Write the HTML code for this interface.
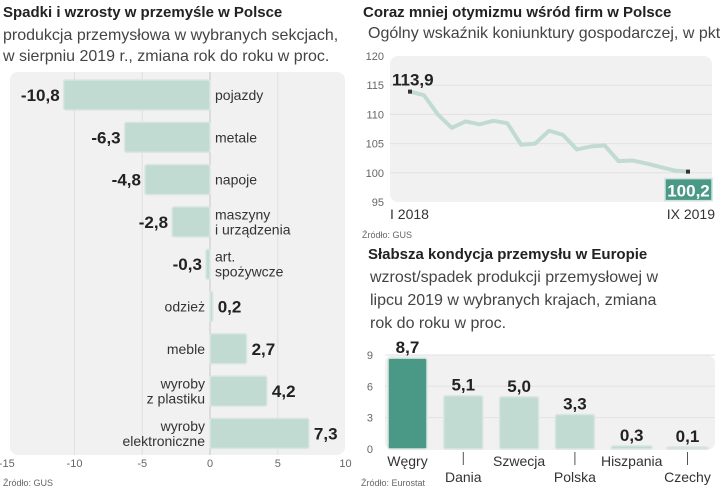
<!DOCTYPE html>
<html><head><meta charset="utf-8"><style>
body{margin:0;background:#fff;}
svg text{font-family:"Liberation Sans Narrow","Liberation Sans",sans-serif;}
.t{font-weight:bold;font-size:15px;fill:#222;}
.s{font-size:16px;fill:#444;font-family:"Liberation Sans",sans-serif;}
.v{font-weight:bold;font-size:17px;fill:#222;}
.c{font-size:14px;fill:#333;font-family:"Liberation Sans",sans-serif;}
.tk{font-size:11px;fill:#666;font-family:"Liberation Sans",sans-serif;}
.src{font-size:9px;fill:#666;font-family:"Liberation Sans",sans-serif;}
</style></head><body>
<svg id="chart" width="720" height="490" xmlns="http://www.w3.org/2000/svg">
<text class="t" x="3" y="17">Spadki i wzrosty w przemyśle w Polsce</text>
<text class="s" x="3" y="40">produkcja przemysłowa w wybranych sekcjach,</text>
<text class="s" x="3" y="61">w sierpniu 2019 r., zmiana rok do roku w proc.</text>
<rect x="10" y="72" width="335" height="383" rx="8" fill="#f1f1f1"/>
<g id="left"></g>
<text class="src" x="3" y="486">Źródło: GUS</text>

<text class="t" x="363" y="17">Coraz mniej otymizmu wśród firm w Polsce</text>
<text class="s" x="368" y="38">Ogólny wskaźnik koniunktury gospodarczej, w pkt</text>
<rect x="390" y="56" width="322" height="146" rx="8" fill="#f1f1f1"/>
<g id="line"></g>
<text class="src" x="362" y="238">Źródło: GUS</text>

<text class="t" x="368" y="259">Słabsza kondycja przemysłu w Europie</text>
<text class="s" x="370" y="282">wzrost/spadek produkcji przemysłowej w</text>
<text class="s" x="370" y="305">lipcu 2019 w wybranych krajach, zmiana</text>
<text class="s" x="370" y="328">rok do roku w proc.</text>
<rect x="385" y="355" width="330" height="95" rx="8" fill="#f1f1f1"/>
<g id="bars"></g>
<text class="src" x="361" y="486">Źródło: Eurostat</text>
</svg>
<script>
const NS="http://www.w3.org/2000/svg";
const hCats=[["pojazdy"],["metale"],["napoje"],["maszyny","i urządzenia"],["art.","spożywcze"],["odzież"],["meble"],["wyroby","z plastiku"],["wyroby","elektroniczne"]];
const hVals=[-10.8,-6.3,-4.8,-2.8,-0.3,0.2,2.7,4.2,7.3];
const hTicks=[-15,-10,-5,0,5,10];
const lVals=[113.9,113.3,110,107.7,108.8,108.3,108.9,108.5,104.8,105,107.2,106.5,104,104.5,104.7,102,102.1,101.6,101,100.4,100.2];
const lTicks=[95,100,105,110,115,120];
const lXLabels=["I 2018","IX 2019"];
const bCats=["Węgry","Dania","Szwecja","Polska","Hiszpania","Czechy"];
const bVals=[8.7,5.1,5.0,3.3,0.3,0.1];
const bTicks=[0,3,6,9];
function mk(p,tag,a,txt){const e=document.createElementNS(NS,tag);for(const k in a)e.setAttribute(k,a[k]);if(txt!=null)e.textContent=txt;p.appendChild(e);return e;}
const fmt=v=>v.toFixed(1).replace('.',',');
const L=document.getElementById('left');
const hx=v=>210+v*13.55, hy=i=>95+i*42.3;
hTicks.forEach(t=>{
 if(t>-15&&t<10){let g=mk(L,'line',{x1:hx(t),x2:hx(t),y1:72,y2:455,stroke:t==0?'#c8c8c8':'#e0e0e0','stroke-width':1});
 }
 let e=mk(L,'text',{class:'tk',x:hx(t),y:467,'text-anchor':'middle'},String(t));
 
});
hVals.forEach((v,i)=>{
 const x0=Math.min(hx(0),hx(v)),w=Math.max(Math.abs(hx(v)-hx(0)),2),y=hy(i);
 let r=mk(L,'rect',{x:x0,y:y-15,width:w,height:30,rx:2,fill:'#c1dbd3',stroke:'#d9e6e2','stroke-width':1.5});
 
 const neg=v<0;
 let vt=mk(L,'text',{class:'v',x:neg?hx(v)-4:hx(v)+5,y:y+6,'text-anchor':neg?'end':'start'},fmt(v));
 
 const lines=hCats[i];const cx=neg?hx(0)+5:hx(0)-5;const anc=neg?'start':'end';
 lines.forEach((s,j)=>{let c=mk(L,'text',{class:'c',x:cx,y:y+5+(j-(lines.length-1)/2)*15,'text-anchor':anc},s);
  });
});
const G=document.getElementById('line');
const ly=v=>56+(120-v)*5.84, lx=i=>410+i*(688-410)/(lVals.length-1);
lTicks.forEach(t=>{
 if(t>95&&t<120){let g=mk(G,'line',{x1:390,x2:712,y1:ly(t),y2:ly(t),stroke:'#e2e2e2'});}
 let e=mk(G,'text',{class:'tk',x:384,y:ly(t)+4,'text-anchor':'end'},String(t));
 
});
let p=mk(G,'polyline',{points:lVals.map((v,i)=>lx(i)+','+ly(v)).join(' '),fill:'none',stroke:'#c1dbd3','stroke-width':4,'stroke-linejoin':'round'});

[0,lVals.length-1].forEach(i=>{let d=mk(G,'rect',{x:lx(i)-2,y:ly(lVals[i])-2,width:4,height:4,fill:'#333'});});
let a=mk(G,'text',{class:'v',x:392,y:ly(lVals[0])-6,'font-size':'18'},fmt(lVals[0]));
const last=lVals[lVals.length-1];
let bx=mk(G,'rect',{x:665,y:ly(last)+7,width:47,height:22,fill:'#4a9886',stroke:'#cfe3dd','stroke-width':1.5});
let bt=mk(G,'text',{class:'v',x:688.5,y:ly(last)+25,'text-anchor':'middle',fill:'#fff',style:'fill:#fff'},fmt(last));
let x1=mk(G,'text',{class:'c',x:390,y:219},lXLabels[0]);
let x2=mk(G,'text',{class:'c',x:715,y:219,'text-anchor':'end'},lXLabels[1]);
const B=document.getElementById('bars');
const by=v=>449-v*10.45, bxp=i=>388+i*55.8;
bTicks.forEach(t=>{
 if(t>0){let g=mk(B,'line',{x1:385,x2:715,y1:by(t),y2:by(t),stroke:'#e2e2e2'});}
 let e=mk(B,'text',{class:'tk',x:373,y:by(t)+4,'text-anchor':'end'},String(t));
});
bVals.forEach((v,i)=>{
 const x=bxp(i),w=i>3?41:39,h=Math.max(v*10.45,2);
 let r=mk(B,'rect',{x:x,y:449-h,width:w,height:h,rx:2,fill:i==0?'#4a9886':'#c1dbd3',stroke:'#d9e6e2','stroke-width':1.5});
 
 let t=mk(B,'text',{class:'v',x:x+w/2,y:449-h-5,'text-anchor':'middle'},fmt(v));
 const low=i%2==1;
 if(low){let l=mk(B,'line',{x1:x+w/2,x2:x+w/2,y1:452,y2:465,stroke:'#555'});}
 let c=mk(B,'text',{class:'c',x:x+w/2,y:low?482:466,'text-anchor':'middle','font-size':'15'},bCats[i]);
});
</script>
</body></html>
